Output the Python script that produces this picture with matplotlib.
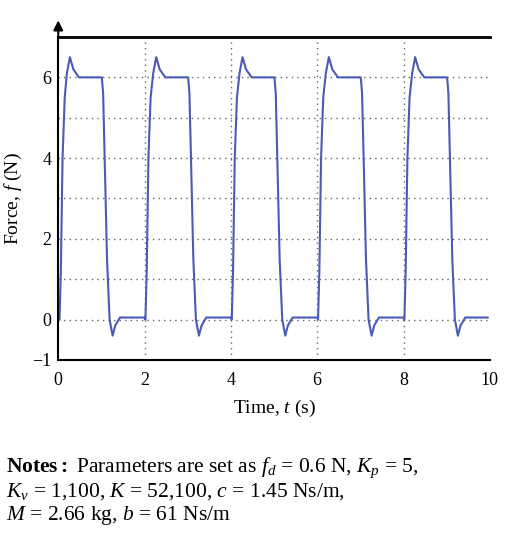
import matplotlib
matplotlib.use("Agg")
import matplotlib.pyplot as plt

plt.rcParams["font.family"] = ["Liberation Serif", "DejaVu Serif"]
plt.rcParams["mathtext.fontset"] = "custom"
plt.rcParams["mathtext.rm"] = "Liberation Serif"
plt.rcParams["mathtext.it"] = "Liberation Serif:italic"
plt.rcParams["mathtext.bf"] = "Liberation Serif:bold"

# force trace (five cycles)
time_s = [
    0.00, 0.03, 0.06, 0.10, 0.15, 0.20, 0.27, 0.35, 0.48, 1.01, 1.04, 1.08, 1.13, 1.19, 1.26, 1.32, 1.43, 2.00,
    2.02, 2.05, 2.09, 2.14, 2.20, 2.27, 2.35, 2.48, 3.01, 3.04, 3.08, 3.13, 3.19, 3.26, 3.32, 3.43, 4.00,
    4.02, 4.05, 4.09, 4.14, 4.20, 4.27, 4.35, 4.48, 5.01, 5.04, 5.08, 5.13, 5.19, 5.26, 5.32, 5.43, 6.00,
    6.02, 6.05, 6.09, 6.14, 6.20, 6.27, 6.35, 6.48, 7.01, 7.04, 7.08, 7.13, 7.19, 7.26, 7.32, 7.43, 8.00,
    8.02, 8.05, 8.09, 8.14, 8.20, 8.27, 8.35, 8.48, 9.01, 9.04, 9.08, 9.13, 9.19, 9.26, 9.32, 9.43, 9.95,
]
force_n = [
    0.0, 0.0, 1.2, 4.0, 5.5, 6.1, 6.5, 6.2, 6.0, 6.0, 5.6, 3.8, 1.5, 0.0, -0.4, -0.15, 0.05, 0.05,
    0.0, 1.2, 4.0, 5.5, 6.1, 6.5, 6.2, 6.0, 6.0, 5.6, 3.8, 1.5, 0.0, -0.4, -0.15, 0.05, 0.05,
    0.0, 1.2, 4.0, 5.5, 6.1, 6.5, 6.2, 6.0, 6.0, 5.6, 3.8, 1.5, 0.0, -0.4, -0.15, 0.05, 0.05,
    0.0, 1.2, 4.0, 5.5, 6.1, 6.5, 6.2, 6.0, 6.0, 5.6, 3.8, 1.5, 0.0, -0.4, -0.15, 0.05, 0.05,
    0.0, 1.2, 4.0, 5.5, 6.1, 6.5, 6.2, 6.0, 6.0, 5.6, 3.8, 1.5, 0.0, -0.4, -0.15, 0.05, 0.05,
]
x_ticks = [0, 2, 4, 6, 8, 10]
y_ticks = [-1, 0, 2, 4, 6]
y_grid = [0, 1, 2, 3, 4, 5, 6]

fig = plt.figure(figsize=(5.2, 5.52), dpi=100)
ax = fig.add_axes([0.112, 0.348, 0.83, 0.585])

ax.plot(time_s, force_n, color="#4a5bb5", lw=1.5)
ax.set_xlim(0, 10)
ax.set_ylim(-1, 7)
ax.set_xticks(x_ticks)
ax.set_yticks(y_ticks)
ax.tick_params(labelsize=13, length=0)
ax.tick_params(axis="x", pad=9)
ax.tick_params(axis="y", pad=5)
for g in y_grid:
    ax.axhline(g, color="#666666", lw=1, ls=(0, (1, 3)), zorder=0)
for g in x_ticks[1:-1]:
    ax.axvline(g, color="#666666", lw=1, ls=(0, (1, 3)), zorder=0)
ax.axhline(7, color="black", lw=2, clip_on=False)
ax.spines["right"].set_visible(False)
ax.spines["top"].set_visible(False)
ax.spines["left"].set_linewidth(1.5)
ax.spines["bottom"].set_linewidth(1.5)

ax.annotate("", xy=(0, 1.06), xytext=(0, 0.99), xycoords="axes fraction",
            arrowprops=dict(arrowstyle="-|>", color="black", lw=1.5, mutation_scale=14))

ax.set_xlabel("Time, $t$ (s)", fontsize=14, labelpad=6)
ax.set_ylabel("Force, $f$ (N)", fontsize=14, labelpad=6)

notes = ("$\\mathbf{Notes:}$ Parameters are set as $f_d$ = 0.6 N, $K_p$ = 5,\n"
         "$K_v$ = 1,100, $K$ = 52,100, $c$ = 1.45 Ns/m,\n"
         "$M$ = 2.66 kg, $b$ = 61 Ns/m")
fig.text(0.012, 0.175, notes, fontsize=15.5, va="top", ha="left", linespacing=1.1)

fig.savefig("out.png", dpi=100)
